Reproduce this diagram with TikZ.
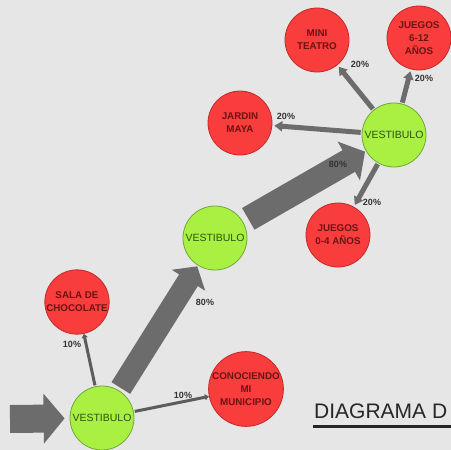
\documentclass[tikz,border=0pt]{standalone}
\usepackage{fontspec}
\setmainfont{Liberation Sans}
\usetikzlibrary{arrows.meta,calc}
\definecolor{bg}{HTML}{E6E6E6}
\definecolor{redfill}{HTML}{F93C3C}
\definecolor{redline}{HTML}{C42A2A}
\definecolor{redtext}{HTML}{6A1414}
\definecolor{greenfill}{HTML}{A9F042}
\definecolor{greenline}{HTML}{6FA83A}
\definecolor{greentext}{HTML}{2A5410}
\definecolor{arrowgray}{HTML}{6C6C6C}
\definecolor{labelgray}{HTML}{333333}
\tikzset{
  redroom/.style={circle, draw=redline, line width=0.8pt, fill=redfill, minimum size=64pt, inner sep=0pt,
    text=redtext, align=center, font=\fontsize{9.8}{12.8}\selectfont\bfseries},
  hall/.style={circle, draw=greenline, line width=0.8pt, fill=greenfill, minimum size=64pt, inner sep=0pt,
    text=greentext, font=\fontsize{10.5}{13}\selectfont},
  pct/.style={text=labelgray, font=\fontsize{9}{11}\selectfont\bfseries, inner sep=0pt},
  bigflow/.style={draw=arrowgray, line width=#1, -{Triangle[width=1.75*#1, length=0.75*#1]}},
  thinflow/.style={draw=arrowgray, line width=5pt, -{Triangle[width=10pt, length=8pt]}},
  lineflow/.style={draw=arrowgray!85!black, line width=3pt, -{Triangle[width=6pt, length=4pt]}},
}
\begin{document}
\begin{tikzpicture}[x=1pt, y=-1pt]
\fill[bg] (0,0) rectangle (451,450);
\useasboundingbox (0,0) rectangle (451,450);
\clip (0,0) rectangle (451,450);

% nodes
\node[hall] (v1) at (102,418) {VESTIBULO};
\node[hall] (v2) at (215,238) {VESTIBULO};
\node[hall] (v3) at (394,135) {VESTIBULO};
\node[redroom] (sala) at (77,302) {SALA DE\\CHOCOLATE};
\node[redroom] (conoc) at (246,389) {CONOCIENDO\\MI\\MUNICIPIO};
\node[redroom] (jardin) at (240,123) {JARDIN\\MAYA};
\node[redroom] (j04) at (338,235) {JUEGOS\\0-4 AÑOS};
\node[redroom] (mini) at (317,40) {MINI\\TEATRO};
\node[redroom] (j612) at (419,38) {JUEGOS\\6-12\\AÑOS};

% entry arrow
\coordinate (entry) at (10,419);
\draw[bigflow=28pt, shorten >=5pt] (entry) -- (v1);

% big flows
\draw[bigflow=22pt, shorten <=3pt, shorten >=1pt] (v1) -- (v2);
\draw[bigflow=25pt, shorten <=6pt, shorten >=1pt] (v2) -- (v3);

% thin flows
\draw[thinflow, shorten <=1pt, shorten >=2pt] (v3) -- (jardin);
\draw[thinflow, shorten <=1pt, shorten >=2pt] (v3) -- (j04);
\draw[thinflow, shorten <=1pt, shorten >=2pt] (v3) -- (mini);
\draw[thinflow, shorten <=1pt, shorten >=2pt] (v3) -- (j612);
\draw[lineflow, shorten <=1pt] (v1) -- (sala);
\draw[lineflow, shorten <=1pt] (v1) -- (conoc);

% labels
\node[pct] (l1) at (72,344) {10\%};
\node[pct] (l2) at (183,395) {10\%};
\node[pct] (l3) at (205,302) {80\%};
\node[pct] (l4) at (338,164) {80\%};
\node[pct] (l5) at (286,116) {20\%};
\node[pct] (l6) at (372,202) {20\%};
\node[pct] (l7) at (360,64) {20\%};
\node[pct] (l8) at (424,78) {20\%};

% title
\node[anchor=base west, inner sep=0pt, font=\fontsize{21}{24}\selectfont, text=black!85] (title) at (314,418) {DIAGRAMA D};
\draw[black!85, line width=3pt] (313,426) -- (451,426);
\end{tikzpicture}
\end{document}
